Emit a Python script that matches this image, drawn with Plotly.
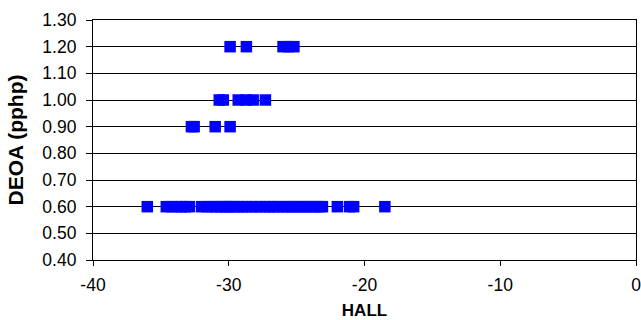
import plotly.graph_objects as go

# HALL values for each DEOA level
hall_120 = [-29.9, -28.7, -26.0, -25.6, -25.2]
hall_100 = [-30.7, -30.4, -29.3, -28.7, -28.2, -27.3]
hall_090 = [-32.75, -32.55, -31.0, -29.9]
hall_060 = [-36.0,
            -34.6, -34.2, -33.8, -33.5, -33.2, -32.9,
            -32.0, -31.6, -31.2, -30.9, -30.6, -30.3, -30.1, -29.9, -29.6,
            -29.3, -29.0, -28.7, -28.3, -28.0, -27.7, -27.3, -27.0, -26.7,
            -26.4, -26.0, -25.7, -25.4, -25.1, -24.8, -24.5, -24.2, -23.9,
            -23.6, -23.3, -23.1,
            -22.0, -21.1, -20.8, -18.5]

x_vals = hall_120 + hall_100 + hall_090 + hall_060
y_vals = ([1.20] * len(hall_120) + [1.00] * len(hall_100)
          + [0.90] * len(hall_090) + [0.60] * len(hall_060))

x_ticks = [-40, -30, -20, -10, 0]
x_tick_labels = [str(v) for v in x_ticks]
y_ticks = [0.4, 0.5, 0.6, 0.7, 0.8, 0.9, 1.0, 1.1, 1.2, 1.3]

fig = go.Figure()
fig.add_trace(go.Scatter(
    x=x_vals, y=y_vals, mode="markers",
    marker=dict(symbol="square", size=11.5, color="#0000FF", line=dict(width=0)),
    showlegend=False,
))

font_family = "Liberation Sans, Arial, sans-serif"
tick_size = 17.5
fig.update_layout(
    width=641, height=320,
    margin=dict(l=93, r=5, t=20, b=60),
    paper_bgcolor="white", plot_bgcolor="white",
    font=dict(family=font_family, size=17, color="black"),
)
fig.update_xaxes(
    range=[-40, 0], tickvals=x_ticks, ticktext=x_tick_labels,
    showgrid=False, zeroline=False,
    showline=True, linecolor="black", linewidth=1.2, mirror=True,
    ticks="outside", ticklen=5, tickcolor="black", tickwidth=1.2,
    tickfont=dict(size=tick_size), ticklabeloverflow="allow",
    ticklabelstandoff=4,
    title=dict(text="<b>HALL</b>", font=dict(size=17), standoff=10),
    automargin=False,
)
fig.update_yaxes(
    range=[0.4, 1.3], tickvals=y_ticks, tickformat=".2f",
    showgrid=True, gridcolor="black", gridwidth=1.2, zeroline=False,
    showline=True, linecolor="black", linewidth=1.2, mirror=True,
    ticks="outside", ticklen=6, tickcolor="black", tickwidth=1.2,
    tickfont=dict(size=tick_size), ticklabelstandoff=6,
    title=dict(text="<b>DEOA (pphp)</b>", font=dict(size=21), standoff=12),
    automargin=False,
)

fig.write_html("out.html", config={"displayModeBar": False},
               post_script="document.body.style.margin='0';")
